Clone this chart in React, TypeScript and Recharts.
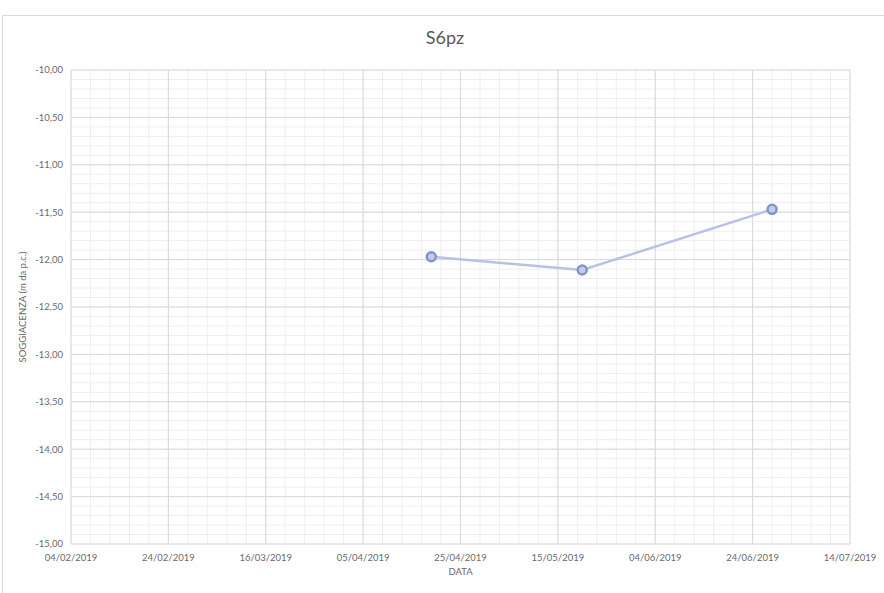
import { CartesianGrid, Line, LineChart, XAxis, YAxis } from "recharts"

const titleText = "S6pz"
const xAxisTitle = "DATA"
const yAxisTitle = "SOGGIACENZA (m da p.c.)"

// x axis ticks (dd/mm/yyyy)
const xTickLabels = [
  "04/02/2019",
  "24/02/2019",
  "16/03/2019",
  "05/04/2019",
  "25/04/2019",
  "15/05/2019",
  "04/06/2019",
  "24/06/2019",
  "14/07/2019",
]
const yTickValues = [-15, -14.5, -14, -13.5, -13, -12.5, -12, -11.5, -11, -10.5, -10]

// measurements
const measureDates = ["19/04/2019", "20/05/2019", "28/06/2019"]
const soggiacenza = [-11.97, -12.11, -11.47]

const DAY = 86400000
const toTime = (s: string) => {
  const [d, m, y] = s.split("/").map(Number)
  return Date.UTC(y, m - 1, d)
}
const pad = (n: number) => String(n).padStart(2, "0")
const fmtDate = (t: number) => {
  const d = new Date(t)
  return `${pad(d.getUTCDate())}/${pad(d.getUTCMonth() + 1)}/${d.getUTCFullYear()}`
}
const fmtNum = (v: number) => v.toFixed(2).replace(".", ",")

const xMajor = xTickLabels.map(toTime)
const xMin = xMajor[0]
const xMax = xMajor[xMajor.length - 1]

// minor grid: every 4 days / every 0,1 m
const xMinor: number[] = []
for (let t = xMin; t <= xMax; t += 4 * DAY) xMinor.push(t)
const yMinor: number[] = []
for (let i = 0; i <= 50; i++) yMinor.push(Math.round((-15 + i * 0.1) * 10) / 10)

const data = measureDates.map((d, i) => ({ time: toTime(d), value: soggiacenza[i] }))

const font = "Lato, 'Open Sans', sans-serif"
const textColor = "#6A6A6A"

export default function App() {
  return (
    <div style={{ position: "absolute", left: 0, top: 0, width: 884, height: 593, background: "#fff", fontFamily: font }}>
      <div
        style={{
          position: "absolute",
          left: 2,
          top: 15,
          width: 900,
          height: 600,
          borderTop: "1px solid #D9D9D9",
          borderLeft: "1px solid #D9D9D9",
        }}
      />
      <LineChart width={884} height={593} data={data} margin={{ top: 70, right: 34, bottom: 19, left: 0 }}>
        <CartesianGrid stroke="#EEEEEE" strokeWidth={1} verticalValues={xMinor} horizontalValues={yMinor} />
        <CartesianGrid stroke="#D9D9D9" strokeWidth={1} verticalValues={xMajor} horizontalValues={yTickValues} />
        <XAxis
          dataKey="time"
          type="number"
          scale="linear"
          domain={[xMin, xMax]}
          ticks={xMajor}
          interval={0}
          tickFormatter={fmtDate}
          tickLine={false}
          axisLine={false}
          height={30}
          tick={{ fontSize: 9.5, fill: textColor, fontFamily: font }}
          tickMargin={4}
        />
        <YAxis
          type="number"
          domain={[-15, -10]}
          ticks={yTickValues}
          interval={0}
          tickFormatter={fmtNum}
          tickLine={false}
          axisLine={false}
          width={71}
          tick={{ fontSize: 9.5, fill: textColor, fontFamily: font }}
        />
        <Line
          type="linear"
          dataKey="value"
          stroke="#B7C2E4"
          strokeWidth={2.5}
          dot={{ r: 4.5, fill: "#C3CCE9", stroke: "#8395C8", strokeWidth: 2.5 }}
          activeDot={false}
          isAnimationActive={false}
        />
      </LineChart>
      <div
        style={{
          position: "absolute",
          left: 0,
          width: 884,
          top: 26,
          textAlign: "center",
          fontSize: 18,
          color: "#595959",
          paddingLeft: 6,
          boxSizing: "border-box",
        }}
      >
        {titleText}
      </div>
      <div
        style={{
          position: "absolute",
          left: 71,
          width: 779,
          top: 566,
          textAlign: "center",
          fontSize: 9.5,
          color: textColor,
        }}
      >
        {xAxisTitle}
      </div>
      <div
        style={{
          position: "absolute",
          left: 23 - 100,
          top: 307 - 7,
          width: 200,
          height: 14,
          lineHeight: "14px",
          textAlign: "center",
          fontSize: 9.5,
          color: textColor,
          transform: "rotate(-90deg)",
        }}
      >
        {yAxisTitle}
      </div>
    </div>
  )
}
